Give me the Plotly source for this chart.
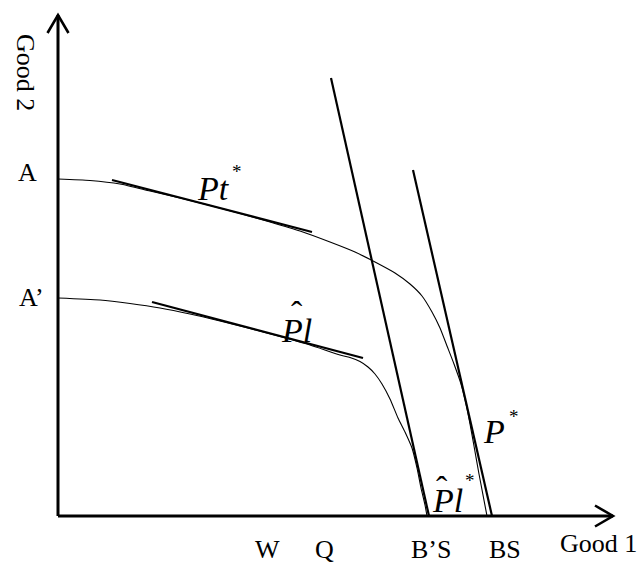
import plotly.graph_objects as go

# Quantities of Good 1 (x) and Good 2 (y)
# Outer production-possibility frontier A -> BS
ppf_a_x = [0, 32, 62, 92, 122, 152, 182, 212, 242, 272, 297, 317, 337, 352, 364,
           374, 382, 389, 396, 403, 408, 412, 416, 421, 429]
ppf_a_y = [337, 335.5, 332, 325, 318, 310.5, 302.5, 294, 285, 274, 264, 254, 243,
           232, 220, 204, 188, 170, 152, 132, 112, 92, 70, 42, 0]

# Inner production-possibility frontier A' -> B'S
ppf_b_x = [0, 42, 72, 102, 132, 162, 192, 222, 252, 282, 292, 302, 310, 317, 324,
           332, 340, 347, 354, 359, 363, 367, 369]
ppf_b_y = [218, 216, 212.5, 208, 202, 195, 187.5, 179.5, 171, 161, 158.5, 154.5,
           149, 142, 132, 117, 98, 84, 68, 48, 28, 11, 0]

# Price lines (end points)
pt_x, pt_y = [54, 254], [336, 284]          # Pt*
pl_x, pl_y = [94, 305], [214, 158]          # P^l
bps_x, bps_y = [273, 371], [438, 0]         # P^l*  (through B'S)
ps_x, ps_y = [355, 434], [346, 0]           # P*    (through BS)

# Axis extents
good1_max = 555
good2_max = 501

# Labels on the axes
x_labels = ["W", "Q", "B\u2019S", "BS"]
x_label_pos = [209.5, 266, 373, 447]
y_labels = ["A", "A\u2019"]
y_label_pos = [344, 219]

SERIF = "Liberation Serif"
BLACK = "#000000"

fig = go.Figure()

for xs, ys in [(ppf_a_x, ppf_a_y), (ppf_b_x, ppf_b_y)]:
    fig.add_trace(go.Scatter(x=xs, y=ys, mode="lines",
                             line=dict(color=BLACK, width=1.1, shape="spline", smoothing=0.6),
                             hoverinfo="skip", showlegend=False))

for xs, ys in [(pt_x, pt_y), (pl_x, pl_y), (bps_x, bps_y), (ps_x, ps_y)]:
    fig.add_trace(go.Scatter(x=xs, y=ys, mode="lines",
                             line=dict(color=BLACK, width=2.2),
                             hoverinfo="skip", showlegend=False))

# Axes with open arrow heads
fig.add_trace(go.Scatter(x=[0, good1_max], y=[0, 0], mode="lines",
                         line=dict(color=BLACK, width=3), hoverinfo="skip", showlegend=False))
fig.add_trace(go.Scatter(x=[0, 0], y=[0, good2_max], mode="lines",
                         line=dict(color=BLACK, width=3), hoverinfo="skip", showlegend=False))
head_len, head_half = 18, 10.5
fig.add_shape(type="path",
              path=f"M {good1_max - head_len},{head_half} L {good1_max},0 L {good1_max - head_len},{-head_half}",
              line=dict(color=BLACK, width=2.6))
fig.add_shape(type="path",
              path=f"M {-head_half},{good2_max - head_len} L 0,{good2_max} L {head_half},{good2_max - head_len}",
              line=dict(color=BLACK, width=2.6))

label_font = dict(family=SERIF, size=26, color=BLACK)
ann = []
for t, p in zip(x_labels, x_label_pos):
    ann.append(dict(x=p, y=-33, text=t, showarrow=False, xanchor="center", yanchor="middle",
                    font=label_font))
for t, p in zip(y_labels, y_label_pos):
    ann.append(dict(x=-31 if t == "A" else -27, y=p, text=t, showarrow=False,
                    xanchor="center", yanchor="middle", font=label_font))
ann.append(dict(x=540, y=-27, text="Good 1", showarrow=False, xanchor="center", yanchor="middle",
                font=label_font))
ann.append(dict(x=-32, y=444, text="Good 2", showarrow=False, xanchor="center", yanchor="middle",
                textangle=90, font=label_font))

# Price-line labels
italic = dict(family=SERIF, size=34, color=BLACK)
star = dict(family=SERIF, size=19, color=BLACK)
hat = dict(family=SERIF, size=34, color=BLACK)
ann += [
    dict(x=137, y=328, text="<i>Pt</i>", showarrow=False, xanchor="left", yanchor="middle", font=italic),
    dict(x=179, y=345, text="*", showarrow=False, xanchor="center", yanchor="middle", font=star),
    dict(x=221, y=186, text="<i>Pl</i>", showarrow=False, xanchor="left", yanchor="middle", font=italic),
    dict(x=239, y=203, text="\u02c6", showarrow=False, xanchor="center", yanchor="middle", font=hat),
    dict(x=423, y=85, text="<i>P</i>", showarrow=False, xanchor="left", yanchor="middle", font=italic),
    dict(x=456, y=100, text="*", showarrow=False, xanchor="center", yanchor="middle", font=star),
    dict(x=372, y=16, text="<i>Pl</i>", showarrow=False, xanchor="left", yanchor="middle", font=italic),
    dict(x=384, y=28, text="\u02c6", showarrow=False, xanchor="center", yanchor="middle", font=hat),
    dict(x=412, y=36, text="*", showarrow=False, xanchor="center", yanchor="middle", font=star),
]

fig.update_layout(
    width=638, height=563,
    margin=dict(l=0, r=0, t=0, b=0),
    paper_bgcolor="white", plot_bgcolor="white",
    xaxis=dict(range=[-58, 580], visible=False, fixedrange=True),
    yaxis=dict(range=[-47, 516], visible=False, fixedrange=True),
    annotations=ann,
    showlegend=False,
)

fig.write_html("out.html")
